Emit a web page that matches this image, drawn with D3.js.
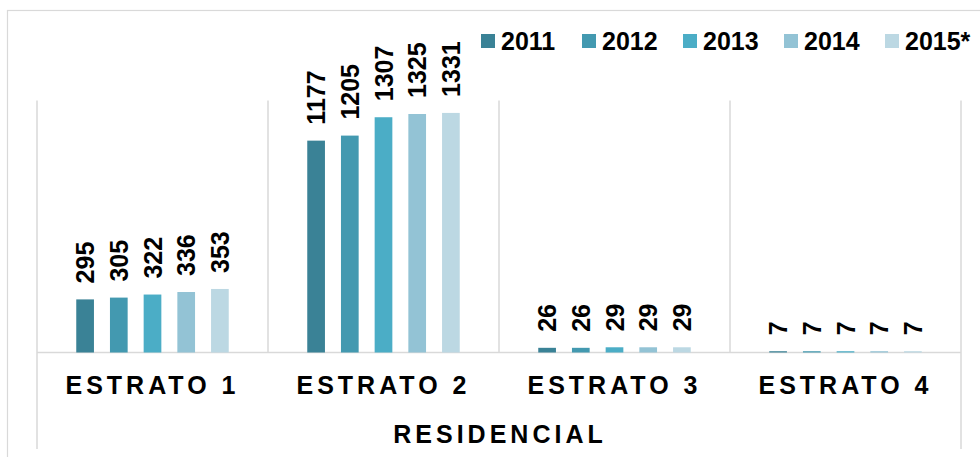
<!DOCTYPE html>
<html>
<head>
<meta charset="utf-8">
<script src="https://cdn.jsdelivr.net/npm/d3@7"></script>
<style>
  body { margin: 0; background: #fff; }
  svg { display: block; font-family: "Liberation Sans", Arial, sans-serif; }
</style>
</head>
<body>
<div id="chart"></div>
<script>
const width = 980;
const height = 457;

// data
const categories = ['ESTRATO 1', 'ESTRATO 2', 'ESTRATO 3', 'ESTRATO 4'];
const years = ['2011', '2012', '2013', '2014', '2015*'];
const values2011 = [295, 1177, 26, 7];
const values2012 = [305, 1205, 26, 7];
const values2013 = [322, 1307, 29, 7];
const values2014 = [336, 1325, 29, 7];
const values2015 = [353, 1331, 29, 7];
const groupLabel = 'RESIDENCIAL';

const series = [values2011, values2012, values2013, values2014, values2015];
const colors = ['#3a8296', '#4399b0', '#4badc6', '#93c3d5', '#bcd8e3'];

const plot = { left: 37, right: 961, top: 100.5, bottom: 352.5 };

const svg = d3.select('#chart').append('svg').attr('width', width).attr('height', height);

// outer frame (runs off the right and bottom edges)
svg.append('rect')
  .attr('x', 7.5).attr('y', 10.5)
  .attr('width', 1000).attr('height', 500)
  .attr('fill', 'none').attr('stroke', '#d9d9d9').attr('stroke-width', 1.2);

const x0 = d3.scaleBand().domain(categories).range([plot.left, plot.right]);
const x1 = d3.scaleBand().domain(years).range([0, x0.bandwidth()])
  .paddingInner(0.475).paddingOuter(1.165);
const y = d3.scaleLinear().domain([0, 1400]).range([plot.bottom, plot.top]);

// separators between categories
const edges = categories.map(c => x0(c)).concat([plot.right]);
svg.selectAll('.sep')
  .data(edges)
  .enter()
  .append('line')
  .attr('class', 'sep')
  .attr('x1', d => d).attr('x2', d => d)
  .attr('y1', plot.top)
  .attr('y2', (d, i) => (i === 0 || i === edges.length - 1) ? 449 : plot.bottom)
  .attr('stroke', '#d9d9d9').attr('stroke-width', 1.5);

// baseline
svg.append('line')
  .attr('x1', plot.left).attr('x2', plot.right)
  .attr('y1', plot.bottom).attr('y2', plot.bottom)
  .attr('stroke', '#d9d9d9').attr('stroke-width', 1.5);

const groups = svg.selectAll('.grp')
  .data(categories)
  .enter()
  .append('g')
  .attr('class', 'grp')
  .attr('transform', d => `translate(${x0(d)},0)`);

groups.each(function (cat, ci) {
  const g = d3.select(this);
  years.forEach((yr, si) => {
    const v = series[si][ci];
    g.append('rect')
      .attr('x', x1(yr))
      .attr('y', y(v))
      .attr('width', x1.bandwidth())
      .attr('height', plot.bottom - y(v))
      .attr('fill', colors[si]);
    const cx = x1(yr) + x1.bandwidth() / 2;
    const ty = y(v) - 16;
    g.append('text')
      .attr('transform', `translate(${cx},${ty}) rotate(-90)`)
      .attr('dy', '0.36em')
      .attr('font-size', 25)
      .attr('font-weight', 'bold')
      .attr('fill', '#000')
      .text(v);
  });
});

// category labels
svg.selectAll('.cat')
  .data(categories)
  .enter()
  .append('text')
  .attr('class', 'cat')
  .attr('x', d => x0(d) + x0.bandwidth() / 2)
  .attr('y', 394)
  .attr('text-anchor', 'middle')
  .attr('font-size', 25)
  .attr('font-weight', 'bold')
  .attr('letter-spacing', 4)
  .text(d => d);

svg.append('text')
  .attr('x', (plot.left + plot.right) / 2 + 1)
  .attr('y', 443)
  .attr('text-anchor', 'middle')
  .attr('font-size', 25)
  .attr('font-weight', 'bold')
  .attr('letter-spacing', 4)
  .text(groupLabel);

// legend
const legend = svg.selectAll('.leg')
  .data(years)
  .enter()
  .append('g')
  .attr('class', 'leg')
  .attr('transform', (d, i) => `translate(${481 + i * 101},34)`);

legend.append('rect')
  .attr('width', 14).attr('height', 14)
  .attr('fill', (d, i) => colors[i]);

legend.append('text')
  .attr('x', 20)
  .attr('y', 16)
  .attr('font-size', 25)
  .attr('font-weight', 'bold')
  .text(d => d);
</script>
</body>
</html>
